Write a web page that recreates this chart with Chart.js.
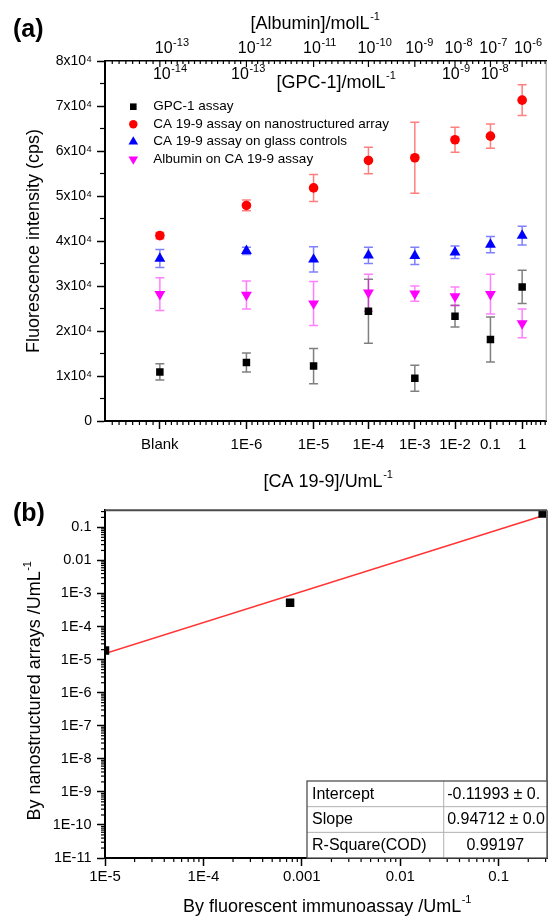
<!DOCTYPE html>
<html><head><meta charset="utf-8">
<script src="https://cdn.jsdelivr.net/npm/chart.js@4.4.0/dist/chart.umd.min.js"></script>
<style>
html,body{margin:0;padding:0;background:#fff;width:553px;height:917px;overflow:hidden;}
canvas{position:absolute;left:0;}
#ca{top:0;}
#cb{top:496px;}
</style></head><body>
<canvas id="ca" width="553" height="496"></canvas>
<canvas id="cb" width="553" height="421"></canvas>
<script>
// ---------- Panel (a) data ----------
const categories = ['Blank','1E-6','1E-5','1E-4','1E-3','1E-2','0.1','1'];
const catX = [3,4,5,6,7,8,9,10];
const gpc1Y   = [10900, 13000, 12200, 24400,  9500, 23300, 18100, 29800];
const gpc1Err = [ 1800,  2100,  3900,  7100,  2900,  2400,  5000,  3700];
const caNanoY   = [41200, 47900, 51800, 57900, 58500, 62500, 63300, 71300];
const caNanoErr = [  700,  1200,  3000,  2950,  7900,  2800,  2700,  3400];
const caGlassY   = [36100, 37800, 35900, 36800, 36700, 37500, 39200, 41200];
const caGlassErr = [ 2000,   800,  2800,  1800,  1900,  1400,  1800,  2100];
const albY   = [28200, 28000, 26100, 28500, 28300, 27700, 28200, 21700];
const albErr = [ 3660,  3100,  4900,  4100,  1700,  2100,  4400,  3200];
const albuminTickExp = ['-13','-12','-11','-10','-9','-8','-7','-6'];
const albuminTickX = [3.12, 4.11, 5.10, 6.12, 7.10, 8.09, 9.08, 10.19];
const gpcTickExp = ['-14','-13','-9','-8'];
const gpcTickX = [3.1, 4.02, 8.02, 9.12];
const yTickLabelsA = ['0','1x10⁴','2x10⁴','3x10⁴','4x10⁴','5x10⁴','6x10⁴','7x10⁴','8x10⁴'];
const seriesLabels = ['GPC-1 assay','CA 19-9 assay on nanostructured array','CA 19-9 assay on glass controls','Albumin on CA 19-9 assay'];

// ---------- Panel (b) data ----------
const fluoX = [1.0e-5, 7.6e-4, 0.28];
const nanoY = [1.9e-5, 5.2e-4, 0.262];
const fitX = [1e-5, 0.28];
const fitY = [1.52e-5, 0.224];
const xTickValsB = [1e-5, 1e-4, 1e-3, 1e-2, 0.1];
const xTickLabelsB = ['1E-5','1E-4','0.001','0.01','0.1'];
const yTickValsB = [1e-11,1e-10,1e-9,1e-8,1e-7,1e-6,1e-5,1e-4,1e-3,1e-2,0.1];
const yTickLabelsB = ['1E-11','1E-10','1E-9','1E-8','1E-7','1E-6','1E-5','1E-4','1E-3','0.01','0.1'];
const fitTable = [['Intercept','-0.11993 ± 0.'],['Slope','0.94712 ± 0.0'],['R-Square(COD)','0.99197']];

const FF = "'Liberation Sans', Arial, Helvetica, sans-serif";
Chart.defaults.font.family = FF;
Chart.defaults.color = '#000';

function supText(ctx, main, sup, cx, cy, size, rot, supSize, rise, align) {
  ctx.save();
  ctx.translate(cx, cy);
  if (rot) ctx.rotate(rot);
  const f = size + 'px ' + FF, fs = (supSize || Math.round(size*0.6)) + 'px ' + FF;
  ctx.font = f; const w1 = ctx.measureText(main).width;
  ctx.font = fs; const w2 = sup ? ctx.measureText(sup).width : 0;
  const x0 = align === 'left' ? 0 : -(w1 + w2) / 2;
  ctx.textBaseline = 'middle'; ctx.textAlign = 'left'; ctx.fillStyle = '#000';
  ctx.font = f; ctx.fillText(main, x0, 0);
  if (sup) { ctx.font = fs; ctx.fillText(sup, x0 + w1 + 0.5, -(rise || size*0.38)); }
  ctx.restore();
}

function marker(ctx, style, x, y, r, rot, color) {
  ctx.save(); ctx.fillStyle = color; ctx.beginPath();
  if (style === 'rect') { const s = r / Math.SQRT2; ctx.rect(x - s, y - s, 2*s, 2*s); }
  else if (style === 'circle') { ctx.arc(x, y, r, 0, Math.PI*2); }
  else if (style === 'triangle') {
    const sgn = rot ? -1 : 1;
    ctx.moveTo(x, y - sgn*r);
    ctx.lineTo(x + r*Math.sin(2*Math.PI/3), y + sgn*r/2);
    ctx.lineTo(x - r*Math.sin(2*Math.PI/3), y + sgn*r/2);
    ctx.closePath();
  }
  ctx.fill(); ctx.restore();
}

const errorBars = {
  id: 'errorBars',
  beforeDatasetsDraw(chart) {
    const ctx = chart.ctx, xs = chart.scales.x, ys = chart.scales.y;
    chart.data.datasets.forEach(ds => {
      if (!ds.errors) return;
      ctx.save(); ctx.strokeStyle = ds.errColor; ctx.lineWidth = 1.5;
      ds.data.forEach((p, i) => {
        const e = ds.errors[i], px = xs.getPixelForValue(p.x);
        const y1 = ys.getPixelForValue(p.y + e), y2 = ys.getPixelForValue(p.y - e);
        ctx.beginPath();
        ctx.moveTo(px, y1); ctx.lineTo(px, y2);
        ctx.moveTo(px - 4.5, y1); ctx.lineTo(px + 4.5, y1);
        ctx.moveTo(px - 4.5, y2); ctx.lineTo(px + 4.5, y2);
        ctx.stroke();
      });
      ctx.restore();
    });
  }
};

function tickLine(ctx, x1, y1, x2, y2) { ctx.beginPath(); ctx.moveTo(x1, y1); ctx.lineTo(x2, y2); ctx.stroke(); }

function minorXPositions(chart) {
  const xs = chart.scales.x, a = chart.chartArea, out = [];
  const majors = catX.map(v => xs.getPixelForValue(v));
  for (let x = majors[0] - 6.8; x > a.left + 1; x -= 6.8) out.push(x);
  for (let i = 0; i < majors.length - 1; i++) {
    const g = majors[i+1] - majors[i], n = Math.max(2, Math.round(g / 5.8));
    for (let k = 1; k < n; k++) out.push(majors[i] + g*k/n);
  }
  for (let x = majors[majors.length-1] + 4.6; x < a.right - 1; x += 4.6) out.push(x);
  return out;
}

const decoA = {
  id: 'decoA',
  afterDraw(chart) {
    const ctx = chart.ctx, a = chart.chartArea, xs = chart.scales.x, ys = chart.scales.y, xt = chart.scales.x2;
    ctx.save();
    ctx.strokeStyle = '#000'; ctx.lineWidth = 1.2;
    const minors = minorXPositions(chart);
    minors.forEach(x => { tickLine(ctx, x, a.bottom, x, a.bottom + 4); tickLine(ctx, x, a.top, x, a.top + 3); });
    catX.forEach(v => { const x = xt.getPixelForValue(v); tickLine(ctx, x, a.top, x, a.top + 6); });
    for (let v = 5000; v < 80000; v += 10000) { const y = ys.getPixelForValue(v); tickLine(ctx, a.left - 5, y, a.left, y); }
    ctx.strokeStyle = '#9a9a9a'; ctx.lineWidth = 1;
    tickLine(ctx, a.right - 0.5, a.top, a.right - 0.5, a.bottom);
    ctx.restore();

    // top (albumin) axis labels
    albuminTickX.forEach((v, i) => {
      supText(ctx, '10', albuminTickExp[i], xt.getPixelForValue(v), 49, 16, 0, 11, 6.5);
    });

    // legend
    const lx = 133.3, ly = 106.7, dy = 17.5;
    chart.data.datasets.forEach((ds, i) => {
      marker(ctx, ds.pointStyle, lx, ly + i*dy, ds.pointRadius*0.88, ds.pointRotation, ds.pointBackgroundColor);
      ctx.save(); ctx.font = '13.5px ' + FF; ctx.fillStyle = '#000'; ctx.textBaseline = 'middle'; ctx.textAlign = 'left';
      ctx.fillText(ds.label, 153.3, ly + i*dy); ctx.restore();
    });

    // GPC-1 inner axis labels
    gpcTickX.forEach((v, i) => {
      supText(ctx, '10', gpcTickExp[i], xs.getPixelForValue(v), 74.7, 16, 0, 11, 5.5);
    });
    supText(ctx, '[GPC-1]/molL', '-1', 336, 83, 18, 0, 11, 7);

    // titles
    supText(ctx, '[Albumin]/molL', '-1', 315, 24, 18, 0, 11, 7);
    supText(ctx, '[CA 19-9]/UmL', '-1', 328, 482, 18, 0, 11, 7);
    supText(ctx, 'Fluorescence intensity (cps)', '', 34.5, 241, 18, -Math.PI/2);
    ctx.save(); ctx.font = 'bold 25px ' + FF; ctx.fillStyle = '#000'; ctx.textBaseline = 'middle'; ctx.textAlign = 'left';
    ctx.fillText('(a)', 13, 30); ctx.restore();
  }
};

new Chart(document.getElementById('ca'), {
  type: 'scatter',
  data: { datasets: [
    { label: seriesLabels[0], data: catX.map((x, i) => ({x, y: gpc1Y[i]})), errors: gpc1Err, errColor: 'rgba(0,0,0,0.5)',
      pointStyle: 'rect', pointRadius: 5.3, pointRotation: 0, pointBackgroundColor: '#000', pointBorderWidth: 0 },
    { label: seriesLabels[1], data: catX.map((x, i) => ({x, y: caNanoY[i]})), errors: caNanoErr, errColor: 'rgba(255,0,0,0.5)',
      pointStyle: 'circle', pointRadius: 4.8, pointRotation: 0, pointBackgroundColor: '#ff0000', pointBorderWidth: 0 },
    { label: seriesLabels[2], data: catX.map((x, i) => ({x, y: caGlassY[i]})), errors: caGlassErr, errColor: 'rgba(0,0,255,0.5)',
      pointStyle: 'triangle', pointRadius: 6.3, pointRotation: 0, pointBackgroundColor: '#0000ff', pointBorderWidth: 0 },
    { label: seriesLabels[3], data: catX.map((x, i) => ({x, y: albY[i]})), errors: albErr, errColor: 'rgba(255,0,255,0.5)',
      pointStyle: 'triangle', pointRadius: 6.3, pointRotation: 180, pointBackgroundColor: '#ff00ff', pointBorderWidth: 0 }
  ]},
  options: {
    responsive: false, animation: false, devicePixelRatio: 1,
    layout: { padding: { left: 0, right: 4, top: 0, bottom: 0 } },
    plugins: { legend: { display: false }, tooltip: { enabled: false } },
    scales: {
      x: { type: 'logarithmic', position: 'bottom', min: 2.5, max: 10.85,
        afterBuildTicks: s => { s.ticks = catX.map(v => ({ value: v })); },
        afterFit: s => { s.height = 75; },
        ticks: { autoSkip: false, maxRotation: 0, minRotation: 0, padding: 7, font: { size: 15 }, color: '#000',
          callback: (v, i) => categories[i] },
        grid: { drawOnChartArea: false, drawTicks: true, tickLength: 8, tickColor: '#000', tickWidth: 1.5, color: '#000' },
        border: { display: true, color: '#000', width: 2 } },
      x2: { type: 'logarithmic', position: 'top', min: 2.5, max: 10.85,
        afterBuildTicks: s => { s.ticks = catX.map(v => ({ value: v })); },
        afterFit: s => { s.height = 61; },
        ticks: { display: false },
        grid: { drawOnChartArea: false, drawTicks: false, color: '#000' },
        border: { display: true, color: '#000', width: 1.5 } },
      y: { type: 'linear', position: 'left', min: 0, max: 80000,
        afterBuildTicks: s => { s.ticks = yTickLabelsA.map((t, i) => ({ value: i * 10000 })); },
        afterFit: s => { s.width = 105; },
        ticks: { padding: 5, font: { size: 14 }, color: '#000', callback: (v, i) => yTickLabelsA[i] },
        grid: { drawOnChartArea: false, drawTicks: true, tickLength: 8, tickColor: '#000', tickWidth: 1.5, color: '#000' },
        border: { display: true, color: '#000', width: 2 } }
    }
  },
  plugins: [errorBars, decoA]
});

// ---------- Panel (b) ----------
const decoB = {
  id: 'decoB',
  afterDraw(chart) {
    const ctx = chart.ctx, a = chart.chartArea, xs = chart.scales.x, ys = chart.scales.y;
    ctx.save();
    ctx.strokeStyle = '#000'; ctx.lineWidth = 1.2;
    for (let d = -5; d <= -1; d++) for (let m = 2; m <= 9; m++) {
      const v = m * Math.pow(10, d); if (v > xs.max) continue;
      const x = xs.getPixelForValue(v); tickLine(ctx, x, a.bottom, x, a.bottom + 4);
    }
    for (let d = -11; d <= -1; d++) for (let m = 2; m <= 9; m++) {
      const v = m * Math.pow(10, d); if (v > ys.max) continue;
      const y = ys.getPixelForValue(v); tickLine(ctx, a.left - 4, y, a.left, y);
    }
    ctx.strokeStyle = '#4a4a4a'; ctx.lineWidth = 2;
    tickLine(ctx, a.left, a.top, a.right, a.top);
    ctx.strokeStyle = '#6a6a6a';
    tickLine(ctx, a.right, a.top, a.right, a.bottom);
    ctx.restore();

    // fit table
    const tR = a.right, tB = a.bottom, tL = a.right - 240, tT = a.bottom - 77, cD = tL + 136.7, rh = 77 / 3;
    ctx.save();
    ctx.fillStyle = '#fff'; ctx.fillRect(tL, tT, tR - tL, tB - tT);
    ctx.strokeStyle = '#b0b0b0'; ctx.lineWidth = 1;
    for (let r = 1; r < 3; r++) tickLine(ctx, tL, tT + r*rh, tR, tT + r*rh);
    tickLine(ctx, cD, tT, cD, tB);
    ctx.strokeStyle = '#505050'; ctx.lineWidth = 1.3;
    ctx.strokeRect(tL, tT, tR - tL, tB - tT);
    ctx.beginPath(); ctx.rect(tL, tT, tR - tL - 1, tB - tT); ctx.clip();
    ctx.fillStyle = '#000'; ctx.font = '16px ' + FF; ctx.textBaseline = 'middle';
    fitTable.forEach((row, r) => {
      const cy = tT + rh*(r + 0.5) + 0.5;
      ctx.textAlign = 'left'; ctx.fillText(row[0], tL + 5, cy);
      if (r < 2) { ctx.textAlign = 'left'; ctx.fillText(row[1], cD + 3.5, cy); }
      else { ctx.textAlign = 'center'; ctx.fillText(row[1], (cD + tR) / 2, cy); }
    });
    ctx.restore();

    supText(ctx, 'By fluorescent immunoassay /UmL', '-1', 327, 411, 18, 0, 11, 7);
    supText(ctx, 'By nanostructured arrays /UmL', '-1', 35, 195, 18, -Math.PI/2, 11, 7);
    ctx.save(); ctx.font = 'bold 25px ' + FF; ctx.fillStyle = '#000'; ctx.textBaseline = 'middle'; ctx.textAlign = 'left';
    ctx.fillText('(b)', 13, 18); ctx.restore();
  }
};

new Chart(document.getElementById('cb'), {
  type: 'scatter',
  data: { datasets: [
    { label: 'Linear fit', type: 'line', data: fitX.map((x, i) => ({x, y: fitY[i]})), showLine: true,
      borderColor: '#ff3333', borderWidth: 1.5, pointRadius: 0, fill: false, order: 2 },
    { label: 'Data', data: fluoX.map((x, i) => ({x, y: nanoY[i]})), pointStyle: 'rect', pointRadius: 6,
      pointBackgroundColor: '#000', pointBorderColor: '#000', pointBorderWidth: 0, order: 1 }
  ]},
  options: {
    responsive: false, animation: false, devicePixelRatio: 1,
    layout: { padding: { left: 0, right: 3, top: 2, bottom: 0 } },
    plugins: { legend: { display: false }, tooltip: { enabled: false } },
    scales: {
      x: { type: 'logarithmic', position: 'bottom', min: 1e-5, max: 0.31,
        afterBuildTicks: s => { s.ticks = xTickValsB.map(v => ({ value: v })); },
        afterFit: s => { s.height = 59; },
        ticks: { autoSkip: false, maxRotation: 0, minRotation: 0, padding: 2, font: { size: 15 }, color: '#000',
          callback: (v, i) => xTickLabelsB[i] },
        grid: { drawOnChartArea: false, drawTicks: true, tickLength: 8, tickColor: '#000', tickWidth: 1.5, color: '#000' },
        border: { display: true, color: '#000', width: 2 } },
      y: { type: 'logarithmic', position: 'left', min: 1e-11, max: 0.33,
        afterBuildTicks: s => { s.ticks = yTickValsB.map(v => ({ value: v })); },
        afterFit: s => { s.width = 105; },
        ticks: { autoSkip: false, padding: 5.5, font: { size: 14.5 }, color: '#000', callback: (v, i) => yTickLabelsB[i] },
        grid: { drawOnChartArea: false, drawTicks: true, tickLength: 8, tickColor: '#000', tickWidth: 1.5, color: '#000' },
        border: { display: true, color: '#000', width: 2 } }
    }
  },
  plugins: [decoB]
});
</script></body></html>
